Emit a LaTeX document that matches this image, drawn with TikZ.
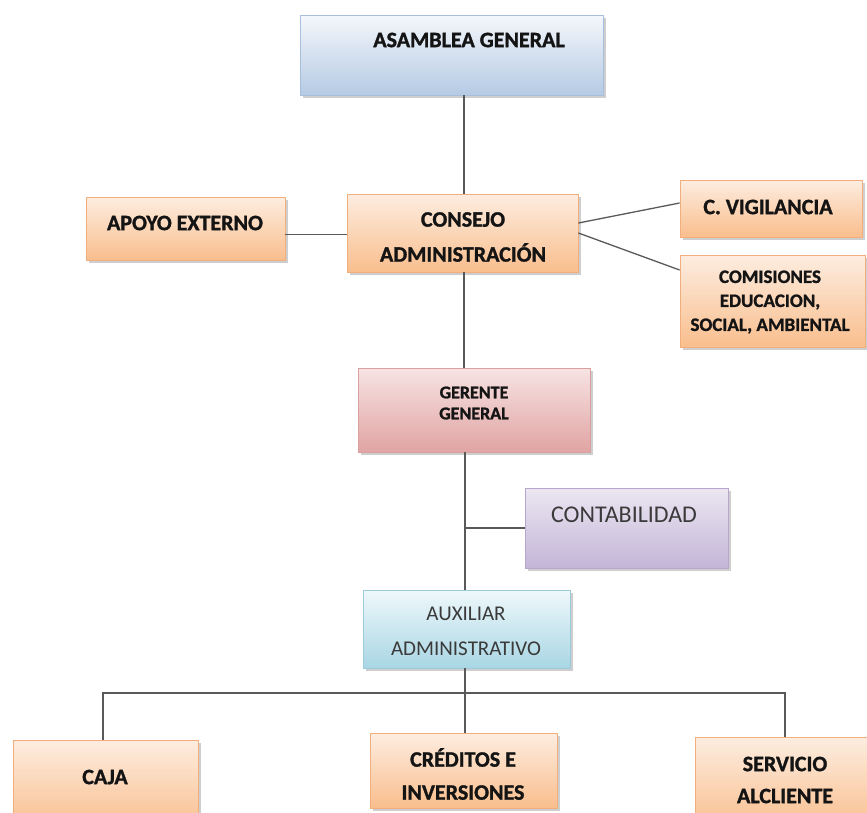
\documentclass[tikz,border=0pt]{standalone}
\usepackage{fontspec}
\setmainfont{Carlito}[BoldFeatures={FakeBold=1.3}]
\usetikzlibrary{shadows}
\definecolor{orT}{HTML}{FDEDE0}
\definecolor{orB}{HTML}{F9BE8D}
\definecolor{orD}{HTML}{F2AE7C}
\definecolor{blT}{HTML}{F4F7FB}
\definecolor{blB}{HTML}{B5CAE4}
\definecolor{blD}{HTML}{A7BEDC}
\definecolor{rdT}{HTML}{F7E3E3}
\definecolor{rdB}{HTML}{E0A4A3}
\definecolor{rdD}{HTML}{D9A0A0}
\definecolor{vlT}{HTML}{ECE7F2}
\definecolor{vlB}{HTML}{C3B5D7}
\definecolor{vlD}{HTML}{B7A7CC}
\definecolor{cyT}{HTML}{EEF8FB}
\definecolor{cyB}{HTML}{A9D6E4}
\definecolor{cyD}{HTML}{9CCBDB}
\definecolor{lineC}{HTML}{595959}
\definecolor{txtB}{HTML}{141414}
\definecolor{txtR}{HTML}{3A3A3A}
\begin{document}
\begin{tikzpicture}[x=1pt,y=-1pt,
  boxbase/.style={draw=#1, line width=0.8pt, inner sep=0pt,
    drop shadow={shadow xshift=2.5pt, shadow yshift=-2.5pt, opacity=0.35, fill=black!55}},
  orbox/.style={boxbase=orD, top color=orT, bottom color=orB},
  blbox/.style={boxbase=blD, top color=blT, bottom color=blB},
  rdbox/.style={boxbase=rdD, top color=rdT, bottom color=rdB},
  vlbox/.style={boxbase=vlD, top color=vlT, bottom color=vlB},
  cybox/.style={boxbase=cyD, top color=cyT, bottom color=cyB},
  bt/.style={inner sep=0pt, align=center, text=txtB, font=\fontsize{#1}{#1}\selectfont\bfseries},
  rt/.style={inner sep=0pt, align=center, text=txtR, font=\fontsize{#1}{#1}\selectfont},
  conn/.style={draw=lineC, line width=1.3pt}
]
\useasboundingbox (0,0) rectangle (867,812);
\clip (0,0) rectangle (867,812);

% boxes
\node[blbox, minimum width=303pt, minimum height=80pt] (asm) at (451.5,55) {};
\node[orbox, minimum width=199pt, minimum height=63pt] (apo) at (185.5,228.5) {};
\node[orbox, minimum width=231pt, minimum height=78pt] (con) at (462.5,233) {};
\node[orbox, minimum width=182pt, minimum height=57pt] (vig) at (771,208.5) {};
\node[orbox, minimum width=185pt, minimum height=92pt] (com) at (772.5,301) {};
\node[rdbox, minimum width=232pt, minimum height=84pt] (ger) at (474,410) {};
\node[vlbox, minimum width=203pt, minimum height=80pt] (cont) at (626.5,528) {};
\node[cybox, minimum width=207pt, minimum height=78pt] (aux) at (466.5,629) {};
\node[orbox, minimum width=185pt, minimum height=90pt] (caja) at (105.5,785) {};
\node[orbox, minimum width=187pt, minimum height=75pt] (cred) at (463.5,770.5) {};
\node[orbox, minimum width=185pt, minimum height=93pt] (serv) at (787.5,783.5) {};

% texts
\node[bt=22] (asmT) at (469,40) {ASAMBLEA GENERAL};
\node[bt=22] (apoT) at (185,223) {APOYO EXTERNO};
\node[bt=22, font=\fontsize{22}{35}\selectfont\bfseries] (conT) at (463,237) {CONSEJO\\ADMINISTRACIÓN};
\node[bt=22] (vigT) at (768,207) {C. VIGILANCIA};
\node[bt=19, font=\fontsize{19}{24}\selectfont\bfseries] (comT) at (770,302) {COMISIONES\\EDUCACION,\\SOCIAL, AMBIENTAL};
\node[bt=18, font=\fontsize{18}{21}\selectfont\bfseries] (gerT) at (474,403) {GERENTE\\GENERAL};
\node[rt=24] (contT) at (624,515) {CONTABILIDAD};
\node[rt=21, font=\fontsize{21}{35}\selectfont] (auxT) at (466,631) {AUXILIAR\\ADMINISTRATIVO};
\node[bt=22] (cajaT) at (105,777) {CAJA};
\node[bt=22, font=\fontsize{22}{33}\selectfont\bfseries] (credT) at (463,774) {CRÉDITOS E\\INVERSIONES};
\node[bt=22, font=\fontsize{22}{32}\selectfont\bfseries] (servT) at (785,780) {SERVICIO\\ALCLIENTE};

% helper coordinates
\coordinate (xm) at (464,0);
\coordinate (x2) at (465,0);
\coordinate (ya) at (0,234.5);
\coordinate (y1) at (0,223);
\coordinate (y2) at (0,203);
\coordinate (y3) at (0,233);
\coordinate (y4) at (0,270);
\coordinate (bus) at (0,693);
\coordinate (xc) at (103,0);
\coordinate (xs) at (785,0);

% connectors
\draw[conn] (asm.south -| xm) -- (con.north -| xm);
\draw[conn] (apo.east |- ya) -- (con.west |- ya);
\draw[conn] (con.east |- y1) -- (vig.west |- y2);
\draw[conn] (con.east |- y3) -- (com.west |- y4);
\draw[conn] (con.south -| xm) -- (ger.north -| xm);
\draw[conn] (ger.south -| x2) -- (aux.north -| x2);
\draw[conn] (cont.west -| x2) -- (cont.west);
\draw[conn] (aux.south -| x2) -- (x2 |- bus);
\draw[conn] (caja.north -| xc) -- (xc |- bus) -- (xs |- bus) -- (serv.north -| xs);
\draw[conn] (x2 |- bus) -- (cred.north -| x2);
\end{tikzpicture}
\end{document}
